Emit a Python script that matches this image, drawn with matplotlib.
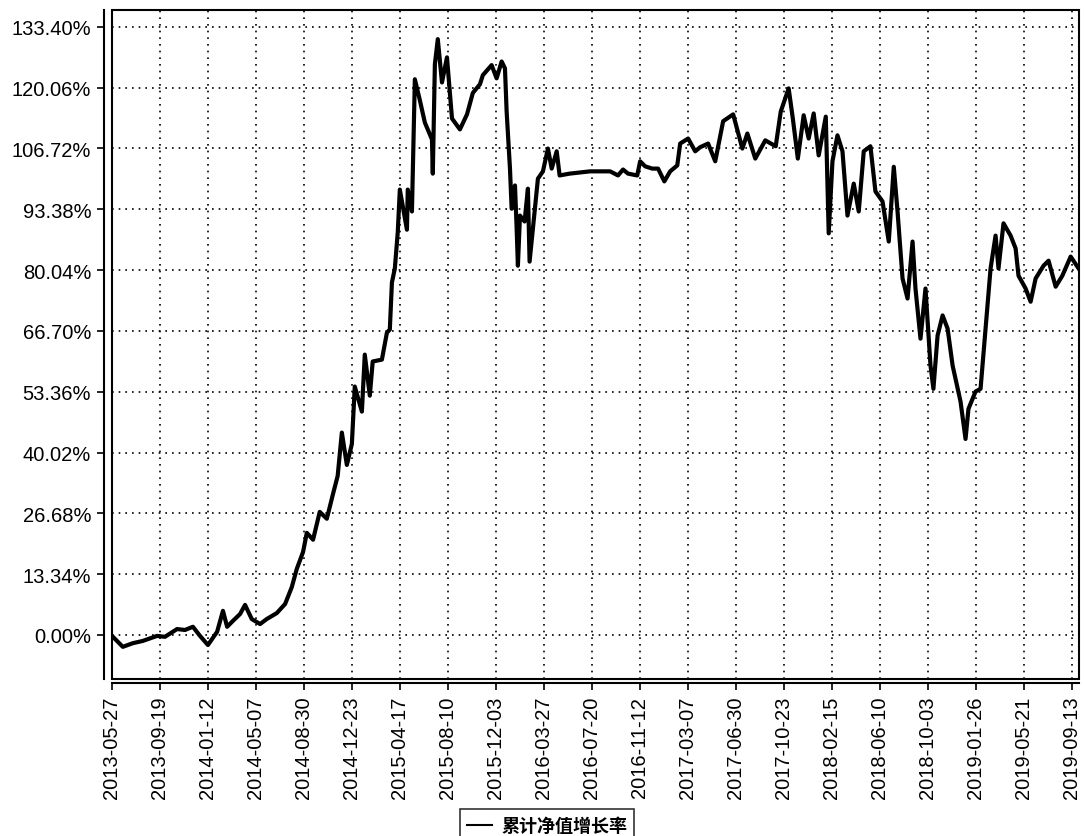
import pandas as pd
import matplotlib
matplotlib.use('Agg')
import matplotlib.pyplot as plt
from matplotlib.patches import Rectangle

# cumulative NAV growth (%)
dates = [
    '2013-05-27', '2013-06-22', '2013-07-16', '2013-08-09', '2013-09-12', '2013-10-01',
    '2013-10-30', '2013-11-18', '2013-12-07', '2013-12-24', '2014-01-12', '2014-02-03',
    '2014-02-17', '2014-02-27', '2014-03-13', '2014-03-30', '2014-04-11', '2014-04-27',
    '2014-05-17', '2014-06-02', '2014-06-26', '2014-07-16', '2014-08-01', '2014-08-13',
    '2014-08-28', '2014-09-06', '2014-09-21', '2014-10-07', '2014-10-24', '2014-11-08',
    '2014-11-19', '2014-11-29', '2014-12-11', '2014-12-23', '2014-12-30', '2015-01-16',
    '2015-01-23', '2015-02-04', '2015-02-11', '2015-03-05', '2015-03-17', '2015-03-24',
    '2015-03-29', '2015-04-05', '2015-04-12', '2015-04-17', '2015-05-04', '2015-05-06',
    '2015-05-16', '2015-05-23', '2015-06-04', '2015-06-16', '2015-06-23', '2015-07-03',
    '2015-07-05', '2015-07-10', '2015-07-17', '2015-07-27', '2015-08-08', '2015-08-20',
    '2015-09-08', '2015-09-25', '2015-10-09', '2015-10-26', '2015-11-02', '2015-11-23',
    '2015-12-05', '2015-12-17', '2015-12-25', '2015-12-29', '2016-01-06', '2016-01-10',
    '2016-01-18', '2016-01-22', '2016-01-25', '2016-01-30', '2016-02-10', '2016-02-18',
    '2016-02-22', '2016-03-01', '2016-03-13', '2016-03-25', '2016-04-06', '2016-04-15',
    '2016-04-27', '2016-05-04', '2016-05-28', '2016-07-16', '2016-09-02', '2016-09-21',
    '2016-10-03', '2016-10-15', '2016-11-06', '2016-11-13', '2016-11-25', '2016-12-12',
    '2016-12-26', '2017-01-10', '2017-01-24', '2017-02-10', '2017-02-17', '2017-03-08',
    '2017-03-25', '2017-04-06', '2017-04-25', '2017-05-12', '2017-05-31', '2017-06-24',
    '2017-07-16', '2017-07-28', '2017-08-16', '2017-09-09', '2017-10-04', '2017-10-16',
    '2017-11-04', '2017-11-14', '2017-11-26', '2017-12-10', '2017-12-22', '2018-01-03',
    '2018-01-15', '2018-02-01', '2018-02-08', '2018-02-17', '2018-03-01', '2018-03-13',
    '2018-03-25', '2018-04-09', '2018-04-21', '2018-05-03', '2018-05-19', '2018-05-31',
    '2018-06-17', '2018-07-02', '2018-07-14', '2018-07-23', '2018-08-04', '2018-08-16',
    '2018-08-28', '2018-09-04', '2018-09-16', '2018-09-28', '2018-10-10', '2018-10-17',
    '2018-10-27', '2018-11-08', '2018-11-20', '2018-12-02', '2018-12-21', '2019-01-02',
    '2019-01-09', '2019-01-26', '2019-02-07', '2019-02-19', '2019-03-03', '2019-03-15',
    '2019-03-22', '2019-04-03', '2019-04-20', '2019-05-02', '2019-05-09', '2019-05-26',
    '2019-06-07', '2019-06-19', '2019-07-08', '2019-07-20', '2019-08-06', '2019-08-22',
    '2019-09-11', '2019-09-30',
]
growth = [
    -0.2, -2.6, -1.8, -1.3, -0.2, -0.4,
    1.3, 1.1, 1.8, -0.2, -2.2, 0.7,
    5.3, 1.8, 3.1, 4.6, 6.6, 3.5,
    2.4, 3.5, 4.8, 6.8, 10.5, 14.5,
    18.2, 22.4, 20.9, 27.0, 25.5, 31.0,
    34.9, 44.4, 37.3, 41.9, 54.5, 49.0,
    61.5, 52.5, 60.0, 60.4, 66.3, 67.0,
    77.3, 80.4, 88.3, 97.7, 88.9, 97.7,
    92.9, 121.9, 117.3, 112.4, 110.9, 108.7,
    101.2, 125.2, 130.7, 121.2, 126.7, 113.3,
    110.9, 114.2, 118.9, 120.8, 122.8, 125.0,
    122.1, 125.8, 124.3, 114.8, 102.3, 93.5,
    98.6, 89.2, 81.0, 92.0, 90.7, 97.9,
    81.9, 89.2, 100.1, 101.7, 106.7, 102.3,
    106.1, 100.8, 101.2, 101.7, 101.7, 100.8,
    102.1, 101.2, 100.8, 103.9, 102.8, 102.3,
    102.3, 99.5, 101.7, 103.0, 107.8, 108.9,
    106.1, 107.0, 107.8, 103.9, 112.7, 114.2,
    106.7, 110.0, 104.5, 108.5, 107.2, 114.8,
    119.9, 113.3, 104.5, 114.0, 108.9, 114.4,
    105.2, 113.7, 88.1, 103.9, 109.6, 106.1,
    92.0, 99.0, 92.9, 106.1, 107.2, 97.3,
    95.1, 86.3, 102.7, 92.9, 78.2, 73.8,
    86.3, 76.0, 65.0, 76.0, 59.1, 54.0,
    65.7, 70.1, 67.2, 59.1, 51.2, 43.0,
    49.6, 53.4, 54.0, 67.2, 80.4, 87.6,
    80.4, 90.3, 87.6, 84.8, 78.8, 76.0,
    73.1, 78.2, 81.0, 82.1, 76.4, 78.8,
    83.0, 80.4,
]

x_ticks = ['2013-05-27', '2013-09-19', '2014-01-12', '2014-05-07', '2014-08-30',
           '2014-12-23', '2015-04-17', '2015-08-10', '2015-12-03', '2016-03-27',
           '2016-07-20', '2016-11-12', '2017-03-07', '2017-06-30', '2017-10-23',
           '2018-02-15', '2018-06-10', '2018-10-03', '2019-01-26', '2019-05-21',
           '2019-09-13']
y_ticks = [0.00, 13.34, 26.68, 40.02, 53.36, 66.70, 80.04, 93.38, 106.72, 120.06, 133.40]
series_name = '累计净值增长率'

plt.rcParams['font.family'] = ['Liberation Sans', 'DejaVu Sans']

fig = plt.figure(figsize=(10.84, 8.37), dpi=100)
ax = fig.add_axes([0.1033, 0.1876, 0.8921, 0.7993])

df = pd.DataFrame({'date': pd.to_datetime(dates), 'growth': growth})
ax.plot(df['date'], df['growth'], color='black', lw=3.0, solid_joinstyle='round',
        label=series_name, zorder=3)

tick_dates = pd.to_datetime(x_ticks)
ax.set_xticks(tick_dates, labels=x_ticks)
ax.set_yticks(y_ticks, labels=[f'{v:.2f}%' for v in y_ticks])
ax.set_xlim(tick_dates[0], pd.Timestamp('2019-10-01'))
ax.set_ylim(-9.65, 137.1)

ax.grid(True, color='black', linestyle=(0, (1, 3)), lw=1.2)
ax.tick_params(axis='both', colors='black', width=1.2, length=5, pad=4, labelsize=14.5)
ax.tick_params(axis='x', labelrotation=90)

# offset axis lines plus a closed frame around the plot area
for side in ['top', 'right']:
    ax.spines[side].set_visible(False)
ax.spines['left'].set_position(('outward', 6))
ax.spines['bottom'].set_position(('outward', 3))
ax.spines['left'].set_linewidth(1.5)
ax.spines['bottom'].set_linewidth(1.5)
ax.add_patch(Rectangle((0, 0), 1, 1, transform=ax.transAxes, fill=False,
                       lw=1.5, edgecolor='black', clip_on=False, zorder=4))

leg = fig.legend(loc='upper center', bbox_to_anchor=(0.5046, 0.0323), borderaxespad=0,
                 frameon=True, fancybox=False, edgecolor='black', handlelength=1.4,
                 prop={'family': ['Noto Sans CJK SC', 'DejaVu Sans'], 'weight': 'bold', 'size': 13},
                 borderpad=0.4, handletextpad=0.5)
leg.get_frame().set_linewidth(1.2)
for line in leg.get_lines():
    line.set_linewidth(1.5)

fig.savefig('out.png', dpi=100)
